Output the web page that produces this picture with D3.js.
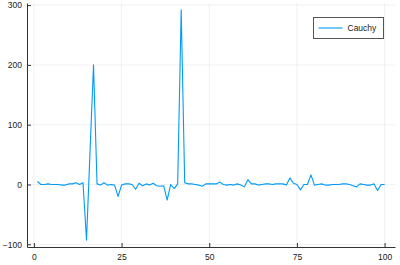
<!DOCTYPE html>
<html>
<head>
<meta charset="utf-8">
<script src="https://cdn.jsdelivr.net/npm/d3@7"></script>
<style>
  body { margin: 0; background: #fff; }
  svg { display: block; font-family: "Liberation Sans", Arial, sans-serif; }
</style>
</head>
<body>
<div id="chart"></div>
<script>
// series values, one per step 1..100
const cauchyValues = [
   5,   0,   0,   1,   0,   0,   0,  -1,  -1,   1,
   1,   3,   0,   3, -93,  55, 200,   1,  -1,   3,
  -1,   0,  -1, -20,  -1,   1,   1,   0,  -8,   2,
  -2,   1,  -1,   2,  -2,  -3,  -2, -26,   0,  -7,
   1, 292,   3,   1,   1,   0,  -1,  -3,   1,   1,
   1,   1,   4,   0,  -1,   0,  -1,   1,  -1,  -4,
   8,   1,   1,  -1,   0,   1,   1,   0,   1,   1,
   1,  -1,  11,   2,   0,  -9,   0,   0,  16,  -1,
   0,   1,  -1,  -1,   0,   0,   0,   1,   1,   0,
  -2,  -4,   1,   0,  -1,  -1,   1, -10,   0,   0
];
const xTicks = [0, 25, 50, 75, 100];
const yTicks = [-100, 0, 100, 200, 300];
const seriesName = "Cauchy";

const data = cauchyValues.map((v, i) => ({x: i + 1, y: v}));

const W = 400, H = 265;
const margin = {left: 27, right: 5, top: 3, bottom: 18};
const width = W - margin.left - margin.right;
const height = H - margin.top - margin.bottom;

const svg = d3.select("#chart").append("svg")
    .attr("width", W)
    .attr("height", H);

const g = svg.append("g")
    .attr("transform", `translate(${margin.left},${margin.top})`);

// Plots.jl style 3% padding around the data range
const xExt = d3.extent(data, d => d.x);
const yExt = d3.extent(data, d => d.y);
const xPad = (xExt[1] - xExt[0]) * 0.03;
const yPad = (yExt[1] - yExt[0]) * 0.03;

const xScale = d3.scaleLinear()
    .domain([xExt[0] - xPad, xExt[1] + xPad])
    .range([0, width]);
const yScale = d3.scaleLinear()
    .domain([yExt[0] - yPad, yExt[1] + yPad])
    .range([height, 0]);

// grid lines
g.append("g").selectAll("line").data(xTicks).join("line")
    .attr("x1", d => xScale(d)).attr("x2", d => xScale(d))
    .attr("y1", 0).attr("y2", height)
    .attr("stroke", "#000").attr("stroke-opacity", 0.06).attr("stroke-width", 1);
g.append("g").selectAll("line").data(yTicks).join("line")
    .attr("x1", 0).attr("x2", width)
    .attr("y1", d => yScale(d)).attr("y2", d => yScale(d))
    .attr("stroke", "#000").attr("stroke-opacity", 0.06).attr("stroke-width", 1);

// axes
const xAxis = g.append("g")
    .attr("transform", `translate(0,${height})`)
    .call(d3.axisBottom(xScale).tickValues(xTicks).tickSizeInner(-4).tickSizeOuter(0).tickPadding(6));
const yAxis = g.append("g")
    .call(d3.axisLeft(yScale).tickValues(yTicks).tickSizeInner(-4).tickSizeOuter(0).tickPadding(5));

[xAxis, yAxis].forEach(a => {
    a.select(".domain").attr("stroke", "#333").attr("stroke-width", 1);
    a.selectAll(".tick line").attr("stroke", "#333");
    a.selectAll(".tick text").attr("fill", "#222").style("font-size", "8.5px");
});
xAxis.selectAll(".tick text").attr("dy", "0.85em");

// the series line
const line = d3.line()
    .x(d => xScale(d.x))
    .y(d => yScale(d.y));

g.append("path")
    .datum(data)
    .attr("fill", "none")
    .attr("stroke", "#009AFA")
    .attr("stroke-width", 1.1)
    .attr("stroke-linejoin", "round")
    .attr("d", line);

// legend
const legend = svg.append("g").attr("transform", "translate(313.5,17.5)");
legend.append("rect")
    .attr("width", 70).attr("height", 21)
    .attr("fill", "#fff").attr("stroke", "#555").attr("stroke-width", 1);
legend.append("line")
    .attr("x1", 5).attr("x2", 29).attr("y1", 10.5).attr("y2", 10.5)
    .attr("stroke", "#009AFA").attr("stroke-width", 1.1);
legend.append("text")
    .attr("x", 34).attr("y", 10.5).attr("dy", "0.35em")
    .attr("fill", "#222").style("font-size", "8.5px")
    .text(seriesName);
</script>
</body>
</html>
